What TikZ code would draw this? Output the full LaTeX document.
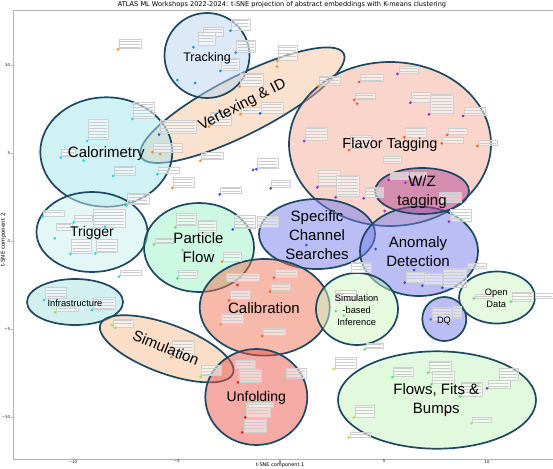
\documentclass[tikz,border=0pt]{standalone}
\usepackage{fontspec}
\setmainfont{DejaVu Sans}
\newfontfamily\labelfont{Liberation Sans}
\usetikzlibrary{patterns}

% cluster colours (drawn at half opacity)
\definecolor{edgecol}{RGB}{28,72,98}
\definecolor{cTrk}{RGB}{185,213,241}
\definecolor{cVtx}{RGB}{247,197,157}
\definecolor{cCalo}{RGB}{161,229,235}
\definecolor{cFT}{RGB}{245,171,153}
\definecolor{cWZ}{RGB}{175,70,146}
\definecolor{cTrig}{RGB}{201,239,239}
\definecolor{cPF}{RGB}{155,241,197}
\definecolor{cSCS}{RGB}{117,125,235}
\definecolor{cInfra}{RGB}{165,225,225}
\definecolor{cCalib}{RGB}{239,115,85}
\definecolor{cSBI}{RGB}{205,245,193}
\definecolor{cSim}{RGB}{245,189,145}
\definecolor{cUnf}{RGB}{235,85,75}
\definecolor{cFFB}{RGB}{195,245,189}
% point colours
\definecolor{pOrange}{RGB}{245,140,50}
\definecolor{pAzure}{RGB}{30,140,245}
\definecolor{pCyan}{RGB}{40,215,225}
\definecolor{pBlue}{RGB}{50,80,240}
\definecolor{pViolet}{RGB}{150,40,220}
\definecolor{pRedOr}{RGB}{250,90,40}
\definecolor{pRed}{RGB}{235,30,30}
\definecolor{pGreen}{RGB}{100,220,130}
\definecolor{pLime}{RGB}{160,220,100}
\definecolor{pYel}{RGB}{200,220,60}

\begin{document}
\begin{tikzpicture}[
    x=1pt, y=-1pt,
    cluster/.style={draw=edgecol, line width=1.7pt, fill opacity=0.5},
    biglabel/.style={font=\labelfont\fontsize{15}{19}\selectfont, align=center, inner sep=0pt},
    smalllabel/.style={font=\labelfont\fontsize{9.3}{12}\selectfont, align=center, inner sep=0pt},
    abstract/.style={draw=gray!38, line width=0.35pt, fill=white, fill opacity=0.5},
    textlines/.style={pattern=horizontal lines, pattern color=gray!40},
    spine/.style={draw=gray!60, line width=0.8pt},
    ticklabel/.style={font=\fontsize{3.8}{4}\selectfont, inner sep=0.3pt}
]
\useasboundingbox (0,0) rectangle (553,468);

% Axes
\draw[spine] (553,10.5) -- (13,10.5) -- (13,459) -- (553,459);
\foreach \v/\py in {10/65,5/153,0/241,{−5}/329,{−10}/417}
    \draw[spine, line width=0.4pt] (13,\py) -- (10.5,\py) node[ticklabel, anchor=east] {\v};
\foreach \v/\px in {{−10}/73,{−5}/177,0/280,5/384,10/487}
    \draw[spine, line width=0.4pt] (\px,459) -- (\px,460) node[ticklabel, inner sep=0pt, anchor=north] {\v};
\node (title) at (282,5) {\fontsize{6.6}{7}\selectfont ATLAS ML Workshops 2022-2024: t-SNE projection of abstract embeddings with K-means clustering};
\node[anchor=south, inner sep=0pt] (xlabel) at (280,468) {\fontsize{5}{5.5}\selectfont t-SNE component 1};
\node[rotate=90] (ylabel) at (3.5,240) {\fontsize{5.5}{6}\selectfont t-SNE component 2};

% Clusters
\draw[cluster, fill=cVtx, rotate around={27:(242.3,105.2)}] (242.3,105.2) ellipse [x radius=113.8, y radius=29];
\draw[cluster, fill=cTrk] (207,55.5) ellipse [x radius=42.5, y radius=42.5];
\draw[cluster, fill=cCalo] (106.3,152) ellipse [x radius=66, y radius=54.7];
\draw[cluster, fill=cFT] (390,144) ellipse [x radius=101, y radius=82];
\draw[cluster, fill=cTrig] (92,232) ellipse [x radius=55.5, y radius=40];
\draw[cluster, fill=cPF] (199,247.5) ellipse [x radius=55, y radius=44.5];
\draw[cluster, fill=cSCS] (317,234) ellipse [x radius=58, y radius=35];
\draw[cluster, fill=cSCS] (419,251.3) ellipse [x radius=59, y radius=44.7];
\draw[cluster, fill=cWZ] (422,191) ellipse [x radius=47, y radius=23];
\draw[cluster, fill=cInfra] (75,302) ellipse [x radius=48, y radius=23];
\draw[cluster, fill=cCalib] (264.7,307.3) ellipse [x radius=65, y radius=48.3];
\draw[cluster, fill=cSBI] (357,309) ellipse [x radius=41, y radius=36];
\draw[cluster, fill=cSCS] (444.3,319) ellipse [x radius=22, y radius=22];
\draw[cluster, fill=cSBI] (497,297.5) ellipse [x radius=38, y radius=26];
\draw[cluster, fill=cSim, rotate around={-20.3:(166.7,348.8)}] (166.7,348.8) ellipse [x radius=70.7, y radius=24.5];
\draw[cluster, fill=cUnf] (256.3,397) ellipse [x radius=51, y radius=48];
\draw[cluster, fill=cFFB] (437,400) ellipse [x radius=99, y radius=48.7];

% Abstract annotations
\foreach \a/\b/\c/\d in {
    119/39/141.3/48.3, 133/102.3/154/118.3, 88/119.3/108/139.3, 61.3/149/75/156.5,
    114/165.7/134.7/175, 159.7/120/196/133.3, 153/143.3/182.3/151.7, 158/166.7/179/173.3,
    173/176.7/193.7/186.7, 127.3/192.7/148.7/204.3, 43/210/64/215.7, 74/215/92.3/221.3,
    93/209/124.7/226.7, 56.3/223.3/72.3/230, 176.3/213.3/196.3/225, 231.3/19.3/249.7/30,
    203/26.7/223/36, 198/31.7/214.7/45, 236.3/40/255.3/51.7, 221.3/58.3/239/70,
    278/45/297.3/60, 240.3/73.3/263/86, 241.3/106.7/260.7/113.3, 261.3/101.7/283/112.7,
    209.7/111.7/231.3/125, 318.7/75.7/339.7/84.7, 359.7/74/383/81.3, 354.7/92.7/374.7/99.3,
    304.7/127.3/327.3/140, 349.7/135/371.3/148.3, 201.3/151.7/223/159.3, 257.3/158.3/278/168.3,
    271.3/180/290.3/187.3, 220.3/186.7/241.3/193.3, 318/170/339.7/186, 336.3/175/359/196,
    364.7/186.7/383/197.3, 233.7/215/255.3/228.3, 257.3/215.7/278/226.7, 198/220/216.3/231.7,
    398.7/65.7/418/73.3, 411.3/91.7/430.7/101.7, 430.3/94.3/453/113.3, 464/107.3/484.7/115,
    448/127.7/467.3/134, 442.3/136.7/463/142.7, 405.3/126.7/426.3/136.7, 478.3/140/497/145.3,
    389.7/171.7/408/179.3, 410.3/171.7/426.3/176.7, 449.7/209.3/471.3/220.7, 439/191.7/461.3/201.7,
    383/156/401.3/162.7, 71.3/239/91.3/252.7, 96.3/239/117/252.3, 120.3/270/141.3/275,
    155.3/237.7/173/243.3, 178/270/197.3/277.7, 45.3/286.7/66.3/298.3, 56.3/305.7/78/311,
    93/296.7/114.7/309, 113/319/133/326.7, 172.3/340/193.7/356.7, 223/252.3/241.3/260.7,
    226.3/273.3/258.7/280.7, 275.3/269/297/276.7, 271.3/282.7/289.7/290, 230.3/290/249.7/299.3,
    221.3/313.3/243/323.3, 263/328.3/285.3/335, 334.7/290/356.3/300, 365.7/343.3/383/348.3,
    334.7/356.7/356.3/367.7, 285.7/368.3/306.3/378.3, 239/369/260.7/381.7, 234.7/360/254.7/367.7,
    246.3/403.3/269.7/416.7, 243.7/419.3/266.3/431.7, 248/401.7/273/406.7, 201.3/365/221.3/375,
    354.7/405/374/416.7, 349.7/431.7/369.7/436.7, 351.3/261.7/371.3/271.7, 405.7/272.3/424.7/281.7,
    423.7/273.3/442.3/284.3, 443/268.3/465.7/286.7, 467/263.3/486.3/267.7, 432/306.7/451.3/320,
    452/306/461.3/318.3, 474.7/294.3/493/297.7, 511.7/292.3/533/301, 534.7/293.3/553/297.7,
    393/366.7/413/376, 429/360.7/451.3/371.7, 432.3/371/454/383.3, 488/380/509.7/387.7,
    499/368.3/518/380, 460.7/381.7/482.3/395.7, 472.3/416.7/491.3/421.7}
{
    \draw[abstract] (\a,\b) rectangle (\c,\d);
    \fill[textlines] (\a+1.2,\b+1.2) rectangle (\c-1.2,\d-1);
}

% Abstracts
\foreach \px/\py/\col in {
    118/49.3/pOrange, 193.3/47.3/pAzure, 177.3/80/pAzure, 195/83/pAzure, 230.3/30.7/pAzure,
    235.7/52.7/pAzure, 220.3/71/pAzure, 132.3/119/pCyan, 87/141/pCyan, 60.7/157.7/pCyan,
    83.7/160.7/pCyan, 113/176/pCyan, 159/134.7/pBlue, 152.3/152.3/pOrange, 160/154/pOrange,
    157.3/174.3/pCyan, 172.3/188/pOrange, 126.3/205.7/pCyan, 42.3/216.7/pCyan, 73.7/222.3/pCyan,
    105/226.7/pCyan, 175.3/227.3/pGreen, 277.3/61/pOrange, 277/66.7/pOrange, 239.7/86.7/pOrange,
    240.3/114.3/pOrange, 260/113.3/pBlue, 209/126.7/pOrange, 318/86/pOrange, 359/82/pRedOr,
    354/100/pRedOr, 357/103.7/pRedOr, 304/141/pViolet, 349/150/pRedOr, 200.3/160.7/pOrange,
    253/170/pBlue, 256.3/169.3/pBlue, 270.7/188.3/pBlue, 219.7/194.3/pBlue, 317.3/187.3/pViolet,
    335.7/197.3/pViolet, 363.7/198.3/pViolet, 232.7/229.3/pBlue, 306.3/245/pBlue,
    397.3/74/pViolet, 410.3/102.7/pViolet, 429/114.3/pViolet, 463/116/pViolet, 447/135/pRedOr,
    441.7/143.3/pRedOr, 404.3/137.3/pRedOr, 477.3/146/pRedOr, 388.7/180/pViolet,
    405.3/182.7/pViolet, 414/185/pViolet, 449/221.7/pViolet, 384.7/211/pViolet, 375.7/249/pBlue,
    54.7/238.3/pCyan, 70.3/254/pCyan, 95.3/253.3/pCyan, 119/276.7/pCyan, 154/244.3/pGreen,
    177.3/278.3/pGreen, 182.3/250/pGreen, 44/300/pCyan, 55.3/312.3/pLime, 92/310/pCyan,
    112/325/pLime, 115.3/327.7/pLime, 171.3/357.3/pOrange, 222/261.7/pOrange, 225.7/281.7/pLime,
    237.3/285/pRed, 274/277.7/pRedOr, 270/291.7/pRedOr, 229/300.3/pRedOr, 220.7/324.3/pOrange,
    262/336/pRedOr, 335.7/311/pGreen, 343.7/315.7/pGreen, 364.7/349.3/pGreen, 333.7/369/pYel,
    284.7/379/pLime, 238/382.3/pRed, 245.3/417.3/pRed, 242.3/432.3/pRed, 200.7/376.7/pLime,
    353.7/417.7/pYel, 348.7/437.3/pYel, 414/270/pBlue, 404.7/282.7/pBlue, 422.3/285.7/pBlue,
    442.3/287.7/pBlue, 430.7/319.3/pAzure, 473.7/298.3/pGreen, 510.7/301.7/pGreen,
    392.3/377.3/pGreen, 428/372.7/pGreen, 431.3/384.3/pGreen, 487/388.3/pViolet,
    459.7/396.7/pGreen, 447.3/412.3/pRedOr, 471.3/423.3/pYel}
    \fill[\col] (\px,\py) circle (1.5);

% Cluster labels
\node[biglabel, font=\labelfont\fontsize{12.5}{14}\selectfont] (trk) at (207,58) {Tracking};
\node[biglabel, rotate=27] (vtx) at (242.5,105) {Vertexing \& ID};
\node[biglabel] (calo) at (106.3,153.3) {Calorimetry};
\node[biglabel, font=\labelfont\fontsize{14.5}{19}\selectfont] (ft) at (390,145) {Flavor Tagging};
\node[biglabel] (wz) at (422,192) {W/Z\\tagging};
\node[biglabel, font=\labelfont\fontsize{14}{19}\selectfont] (trig) at (92,233) {Trigger};
\node[biglabel] (pf) at (198.5,248) {Particle\\Flow};
\node[biglabel] (scs) at (317,235) {Specific\\Channel\\Searches};
\node[biglabel] (ad) at (418,252) {Anomaly\\Detection};
\node[smalllabel] (infra) at (75,303) {Infrastructure};
\node[biglabel] (calib) at (264,308.3) {Calibration};
\node[smalllabel] (sbi) at (356.7,310.3) {Simulation\\-based\\Inference};
\node[smalllabel] (dq) at (444,320.7) {DQ};
\node[smalllabel] (od) at (496.3,298) {Open\\Data};
\node[biglabel, rotate=-22] (sim) at (166,348) {Simulation};
\node[biglabel, font=\labelfont\fontsize{14}{19}\selectfont] (unf) at (256.3,397.7) {Unfolding};
\node[biglabel] (ffb) at (436.3,400.5) {Flows, Fits \&\\Bumps};

\end{tikzpicture}
\end{document}
